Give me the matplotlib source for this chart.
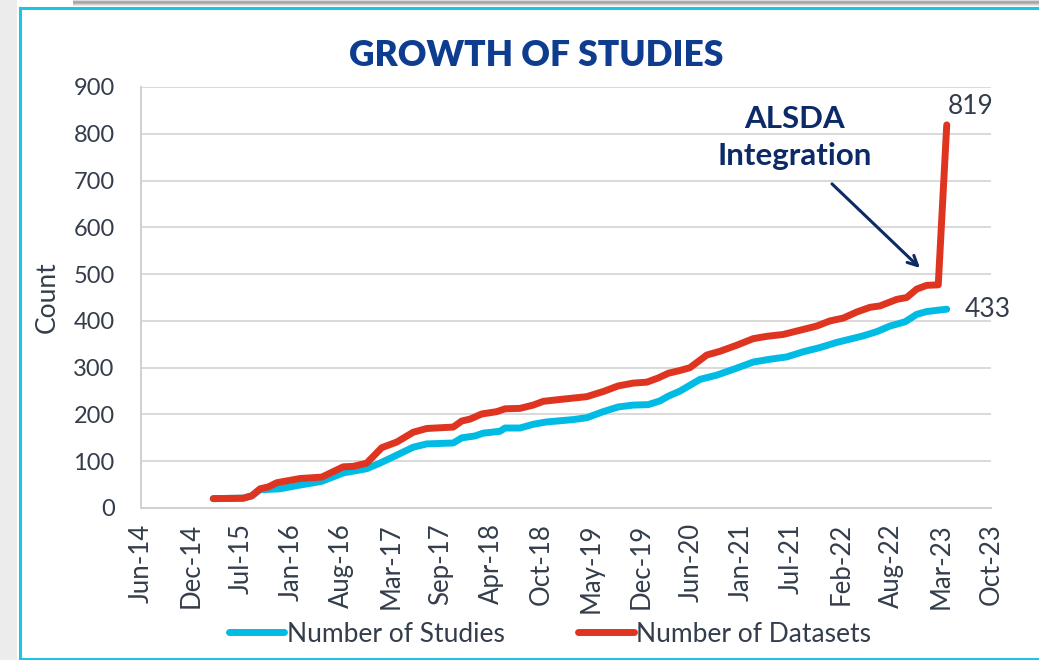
import matplotlib
matplotlib.use("Agg")
import matplotlib.pyplot as plt
import matplotlib.dates as mdates
from matplotlib.patches import Rectangle
from matplotlib.lines import Line2D
import numpy as np
import pandas as pd

# ---------------- data ----------------
dataset_dates = ["2015-03-26", "2015-07-24", "2015-08-27", "2015-09-29", "2015-11-01", "2015-12-05",
                 "2016-03-07", "2016-06-02", "2016-08-27", "2016-10-06", "2016-11-29", "2017-01-28",
                 "2017-03-29", "2017-06-03", "2017-07-27", "2017-11-10", "2017-12-14", "2018-01-16",
                 "2018-03-04", "2018-05-03", "2018-06-05", "2018-08-04", "2018-09-26", "2018-11-05",
                 "2019-01-11", "2019-04-28", "2019-07-03", "2019-09-01", "2019-10-31", "2019-12-24",
                 "2020-02-08", "2020-03-19", "2020-05-05", "2020-06-14", "2020-08-20", "2020-10-12",
                 "2020-12-18", "2021-02-22", "2021-04-17", "2021-06-22", "2021-08-28", "2021-11-03",
                 "2021-12-26", "2022-02-17", "2022-04-12", "2022-06-04", "2022-07-14", "2022-09-19",
                 "2022-10-29", "2022-12-08", "2023-01-17", "2023-03-04", "2023-04-07"]
dataset_counts = [20, 21, 26, 41, 45, 54,
                  63, 66, 88, 89, 96, 129,
                  141, 162, 170, 173, 186, 190,
                  201, 206, 212, 213, 220, 228,
                  232, 238, 249, 261, 267, 269,
                  278, 288, 294, 300, 327, 335,
                  348, 362, 367, 371, 380, 389,
                  400, 406, 419, 429, 432, 446,
                  450, 468, 476, 477, 819]

study_dates = ["2015-03-26", "2015-07-24", "2015-08-27", "2015-09-29", "2015-12-18", "2016-03-07",
               "2016-06-02", "2016-08-27", "2016-11-29", "2017-01-21", "2017-03-29", "2017-06-03",
               "2017-07-27", "2017-11-10", "2017-12-14", "2018-02-05", "2018-03-10", "2018-05-16",
               "2018-06-05", "2018-08-04", "2018-09-26", "2018-11-19", "2019-03-05", "2019-04-28",
               "2019-07-03", "2019-09-01", "2019-10-31", "2019-12-30", "2020-02-15", "2020-03-19",
               "2020-05-05", "2020-07-24", "2020-09-29", "2020-12-18", "2021-02-22", "2021-04-30",
               "2021-07-06", "2021-09-10", "2021-11-16", "2022-01-22", "2022-03-16", "2022-05-08",
               "2022-07-01", "2022-08-23", "2022-10-22", "2022-12-08", "2023-01-17", "2023-04-07"]
study_counts = [20, 21, 26, 39, 41, 49,
                57, 75, 84, 96, 113, 130,
                137, 139, 150, 154, 160, 164,
                171, 171, 179, 184, 189, 193,
                206, 216, 220, 221, 229, 239,
                250, 275, 284, 299, 312, 318,
                323, 334, 343, 354, 361, 368,
                377, 389, 398, 414, 420, 425]

series_names = ["Number of Studies", "Number of Datasets"]
end_labels = ["433", "819"]
title_text = "GROWTH OF STUDIES"
note_text = "ALSDA\nIntegration"
y_ticks = [0, 100, 200, 300, 400, 500, 600, 700, 800, 900]
x_tick_start = "2014-06-10"
x_tick_step_days = 200
x_tick_count = 18

# ---------------- style ----------------
W, H = 1039, 660
DPI = 100
BLUE = "#00BCE4"
RED = "#DF3520"
NAVY = "#0B2A66"
TITLE_C = "#0E3C8E"
TXT = "#333D4B"
GRID = "#D9D9D9"
FONT = ["Lato", "DejaVu Sans"]

plt.rcParams["font.family"] = FONT

fig = plt.figure(figsize=(W / DPI, H / DPI), dpi=DPI)
fig.patch.set_facecolor("white")

# frame / shadow decoration
fig.patches.append(Rectangle((0, 0), 17 / W, 1, transform=fig.transFigure,
                             facecolor="#ECECEC", edgecolor="none", zorder=0))
for i, c in enumerate(["#D8D8D8", "#B0B0B0", "#A0A0A0", "#B8B8B8", "#D0D0D0", "#E8E8E8"]):
    fig.patches.append(Rectangle((73 / W, 1 - (i + 1) / H), 1, 1 / H, transform=fig.transFigure,
                                 facecolor=c, edgecolor="none", zorder=0))
fig.lines.append(Line2D([19.5 / W, 19.5 / W], [1.5 / H, 1 - 7.5 / H], transform=fig.transFigure,
                        color="#1EC3E6", lw=2.2))
fig.lines.append(Line2D([19.5 / W, 1], [1 - 7.5 / H, 1 - 7.5 / H], transform=fig.transFigure,
                        color="#1EC3E6", lw=2.2))
fig.lines.append(Line2D([19.5 / W, 1], [1.5 / H, 1.5 / H], transform=fig.transFigure,
                        color="#1EC3E6", lw=2.2))

ax = fig.add_axes([141 / W, (H - 508) / H, 850 / W, 421 / H])

xs = pd.to_datetime(study_dates)
xd = pd.to_datetime(dataset_dates)
l1, = ax.plot(xs, study_counts, color=BLUE, lw=5.0, solid_capstyle="round",
              solid_joinstyle="round", zorder=3)
l2, = ax.plot(xd, dataset_counts, color=RED, lw=5.0, solid_capstyle="round",
              solid_joinstyle="round", zorder=4)

start = pd.Timestamp(x_tick_start)
ticks = [start + pd.Timedelta(days=x_tick_step_days * k) for k in range(x_tick_count)]
ax.set_xlim(ticks[0], ticks[-1])
ax.set_xticks(ticks)
ax.xaxis.set_major_formatter(mdates.DateFormatter("%b-%y"))
ax.set_ylim(y_ticks[0], y_ticks[-1])
ax.set_yticks(y_ticks)

ax.grid(axis="y", color=GRID, lw=1.4)
ax.set_axisbelow(True)
for s in ["top", "right"]:
    ax.spines[s].set_visible(False)
ax.spines["left"].set_color("#D0D0D0")
ax.spines["bottom"].set_color("#D0D0D0")
ax.spines["left"].set_linewidth(1.4)
ax.spines["bottom"].set_linewidth(1.4)
ax.tick_params(axis="both", length=0, labelcolor=TXT)
ax.tick_params(axis="y", pad=19, labelsize=17)
ax.tick_params(axis="x", pad=11, labelsize=18.5)
for lab in ax.get_xticklabels():
    lab.set_rotation(90)

ax.set_ylabel("Count", fontsize=19, color=TXT, labelpad=10)

fig.text(536 / W, 1 - 55 / H, title_text, ha="center", va="center", fontsize=25.5,
         fontweight="heavy", color=TITLE_C)

# end labels
ax.annotate(end_labels[1], (xd[-1], dataset_counts[-1]), xytext=(1, 4),
            textcoords="offset points", ha="left", va="bottom", fontsize=19, color=TXT)
ax.annotate(end_labels[0], (xs[-1], study_counts[-1]), xytext=(13, 0),
            textcoords="offset points", ha="left", va="center", fontsize=19, color=TXT)

# ALSDA annotation
ax.text(pd.Timestamp("2021-08-08"), 792, note_text, ha="center", va="center",
        fontsize=22.5, fontweight="bold", color=NAVY, linespacing=1.4)
ax.annotate("", xy=(pd.Timestamp("2022-12-29"), 509), xytext=(pd.Timestamp("2021-12-26"), 697),
            arrowprops=dict(arrowstyle="->,head_length=0.7,head_width=0.35", color=NAVY, lw=2.2))

fig.legend([l1, l2], series_names, loc="center", bbox_to_anchor=(550 / W, 1 - 634 / H),
           ncol=2, frameon=False, fontsize=19, labelcolor=TXT, handlelength=2.1,
           handletextpad=0.1, columnspacing=2.8)

fig.savefig("out.png", dpi=DPI, facecolor="white")
